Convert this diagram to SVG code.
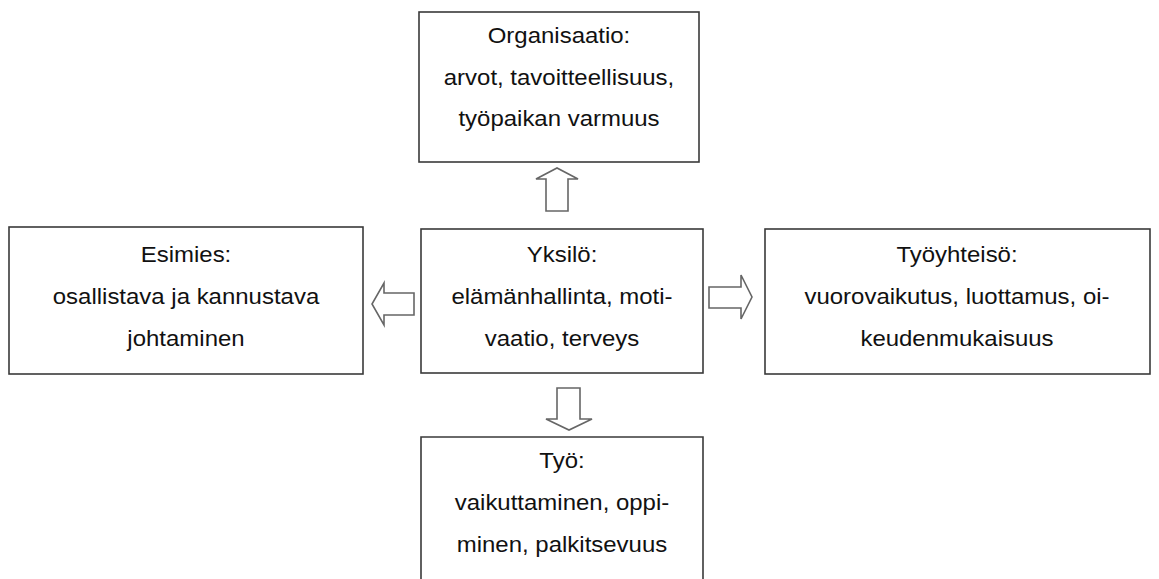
<svg xmlns="http://www.w3.org/2000/svg" width="1159" height="579" viewBox="0 0 1159 579">
<style>
.box{fill:#fff;stroke:#3a3a3a;stroke-width:1.6}
.arrow{fill:#fff;stroke:#666;stroke-width:1.6;stroke-linejoin:miter}
.t{font-family:"Liberation Sans",Arial,sans-serif;font-size:22px;fill:#111;text-anchor:middle}
</style>
<rect width="1159" height="579" fill="#fff"/>
<g id="organisaatio">
<rect class="box" x="419" y="12" width="280" height="150"/>
<text class="t" transform="translate(559,43) scale(1.09,1)">Organisaatio:</text>
<text class="t" transform="translate(559,85) scale(1.09,1)">arvot, tavoitteellisuus,</text>
<text class="t" transform="translate(559,126) scale(1.09,1)">työpaikan varmuus</text>
</g>
<g id="esimies">
<rect class="box" x="9" y="227" width="354" height="147"/>
<text class="t" transform="translate(186,262) scale(1.09,1)">Esimies:</text>
<text class="t" transform="translate(186,304) scale(1.09,1)">osallistava ja kannustava</text>
<text class="t" transform="translate(186,346) scale(1.09,1)">johtaminen</text>
</g>
<g id="yksilo">
<rect class="box" x="421" y="229" width="282" height="144"/>
<text class="t" transform="translate(562,262) scale(1.09,1)">Yksilö:</text>
<text class="t" transform="translate(562,304) scale(1.09,1)">elämänhallinta, moti-</text>
<text class="t" transform="translate(562,346) scale(1.09,1)">vaatio, terveys</text>
</g>
<g id="tyoyhteiso">
<rect class="box" x="765" y="229" width="385" height="145"/>
<text class="t" transform="translate(957,262) scale(1.09,1)">Työyhteisö:</text>
<text class="t" transform="translate(957,304) scale(1.09,1)">vuorovaikutus, luottamus, oi-</text>
<text class="t" transform="translate(957,346) scale(1.09,1)">keudenmukaisuus</text>
</g>
<g id="tyo">
<path class="box" d="M421,590 V437 H703 V590"/>
<text class="t" transform="translate(562,468) scale(1.09,1)">Työ:</text>
<text class="t" transform="translate(562,510) scale(1.09,1)">vaikuttaminen, oppi-</text>
<text class="t" transform="translate(562,552) scale(1.09,1)">minen, palkitsevuus</text>
</g>
<g id="connectors">
<path class="arrow" d="M546,211 V179 H536 L557,168 L578,179 H568 V211 Z"/>
<path class="arrow" d="M414,293 H384 V283 L372,304 L384,325 V315 H414 Z"/>
<path class="arrow" d="M709,287 H741 V275 L752,297 L741,319 V308 H709 Z"/>
<path class="arrow" d="M557,388 H580 V419 H592 L569,430 L546,419 H557 Z"/>
</g>
</svg>
